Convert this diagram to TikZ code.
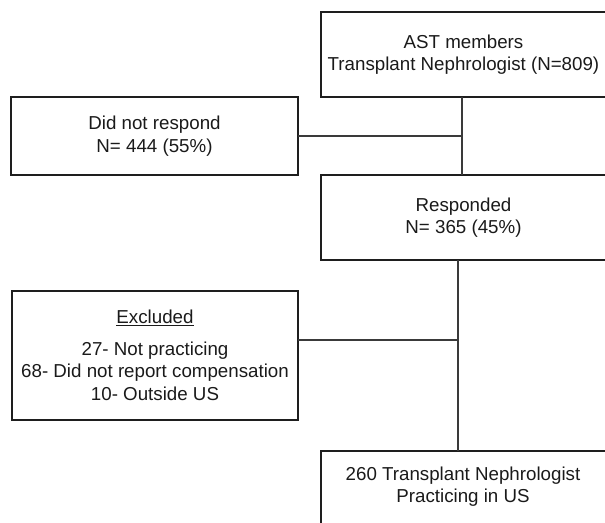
\documentclass[tikz,border=0pt]{standalone}
\usepackage{fontspec}
\setmainfont{Liberation Sans}
\begin{document}
\begin{tikzpicture}[x=1bp,y=-1bp,
  box/.style={draw=boxcol, line width=1.6bp, rectangle, outer sep=0pt, inner sep=0pt,
    align=center, text=txtcol, font=\fontsize{18.8pt}{22.6pt}\selectfont},
  txt/.style={align=center, text=txtcol, inner sep=0pt, font=\fontsize{18.8pt}{22.6pt}\selectfont},
  conn/.style={draw=conncol, line width=1.1bp}]
\definecolor{boxcol}{HTML}{1E1E1E}
\definecolor{conncol}{HTML}{3A3A3A}
\definecolor{txtcol}{HTML}{1A1A1A}
\useasboundingbox (0,0) rectangle (605,523);
\clip (0,0) rectangle (605,523);
\node[box, minimum width=285bp, minimum height=85bp] (top) at (463.5,54.5)
  {AST members\\Transplant Nephrologist (N=809)};
\node[box, minimum width=287bp, minimum height=78bp] (nores) at (154.5,136)
  {Did not respond\\N= 444 (55\%)};
\node[box, minimum width=285bp, minimum height=85bp] (resp) at (463.5,217.5)
  {Responded\\N= 365 (45\%)};
\node[box, minimum width=286bp, minimum height=129bp] (excl) at (155,355.5)
  {\underline{Excluded}\\[9bp]27- Not practicing\\68- Did not report compensation\\10- Outside US};
\node[box, anchor=north, minimum width=285bp, minimum height=80bp] (final) at (463.5,451) {};
\node[txt] (finaltxt) at (463,486.5) {260 Transplant Nephrologist\\Practicing in US};
\coordinate (j1) at (462,136);
\coordinate (j2) at (458,340);
\draw[conn] (top.south -| j1) -- (resp.north -| j1);
\draw[conn] (nores.east) -- (j1);
\draw[conn] (resp.south -| j2) -- (final.north -| j2);
\draw[conn] (excl.east |- j2) -- (j2);
\end{tikzpicture}
\end{document}
